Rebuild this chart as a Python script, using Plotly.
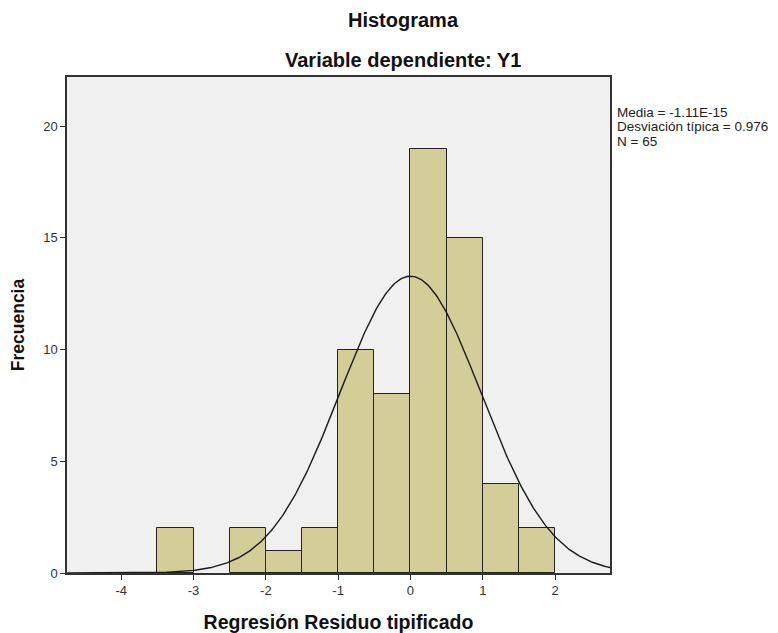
import numpy as np
import plotly.graph_objects as go

# Data
bin_starts = [-3.5, -2.5, -2.0, -1.5, -1.0, -0.5, 0.0, 0.5, 1.0, 1.5]
counts = [2, 2, 1, 2, 10, 8, 19, 15, 4, 2]
bin_width = 0.5
media = -1.11e-15
desv = 0.976
n_total = 65
x_ticks = [-4, -3, -2, -1, 0, 1, 2]
y_ticks = [0, 5, 10, 15, 20]
stats_lines = ["Media = -1.11E-15", "Desviación típica = 0.976", "N = 65"]

centers = [b + bin_width / 2 for b in bin_starts]

xs = np.linspace(-4.75, 2.76, 400)
ys = n_total * bin_width / (desv * np.sqrt(2 * np.pi)) * np.exp(-0.5 * ((xs - media) / desv) ** 2)

fig = go.Figure()
fig.add_trace(go.Bar(
    x=centers, y=counts, width=bin_width,
    marker=dict(color="#D3CE97", line=dict(color="#222222", width=1)),
    showlegend=False, hoverinfo="x+y",
))
fig.add_trace(go.Scatter(
    x=xs, y=ys, mode="lines",
    line=dict(color="#1a1a1a", width=1.4),
    showlegend=False, hoverinfo="skip",
))

font_family = "Liberation Sans, Arial, sans-serif"

title_x = 0.619
annotations = [
    dict(text="<b>Histograma</b>", xref="paper", yref="paper", x=title_x, y=1.0,
         yshift=57, showarrow=False, font=dict(size=20, color="#111111"), yanchor="middle"),
    dict(text="<b>Variable dependiente: Y1</b>", xref="paper", yref="paper", x=title_x, y=1.0,
         yshift=17, showarrow=False, font=dict(size=20, color="#111111"), yanchor="middle"),
]
for i, line in enumerate(stats_lines):
    annotations.append(dict(
        text=line, xref="paper", yref="paper", x=1.0, y=1.0,
        xshift=5, yshift=-35 - 14.8 * i, showarrow=False,
        xanchor="left", yanchor="middle",
        font=dict(size=13.5, color="#222222")))

fig.update_layout(
    width=770, height=625,
    margin=dict(l=59, r=168, t=69, b=60),
    paper_bgcolor="white",
    plot_bgcolor="#F0F0F0",
    font=dict(family=font_family, size=12, color="#222222"),
    bargap=0,
    annotations=annotations,
    xaxis=dict(
        range=[-4.75, 2.76], tickmode="array", tickvals=x_ticks,
        ticktext=[str(t) for t in x_ticks],
        showgrid=False, zeroline=False, automargin=False,
        showline=True, linecolor="#333333", linewidth=1.5, mirror=True,
        ticks="outside", ticklen=5, tickcolor="#333333",
        tickfont=dict(size=13, color="#333333"),
        title=dict(text="<b>Regresión Residuo tipificado</b>", font=dict(size=19.5, color="#111111"), standoff=18),
    ),
    yaxis=dict(
        range=[0, 22.2], tickmode="array", tickvals=y_ticks,
        ticktext=[str(t) for t in y_ticks],
        showgrid=False, zeroline=False, automargin=False,
        showline=True, linecolor="#333333", linewidth=1.5, mirror=True,
        ticks="outside", ticklen=5, tickcolor="#333333",
        tickfont=dict(size=13, color="#333333"),
        title=dict(text="<b>Frecuencia</b>", font=dict(size=17.5, color="#111111"), standoff=15),
    ),
)

fig.write_html("out.html")
